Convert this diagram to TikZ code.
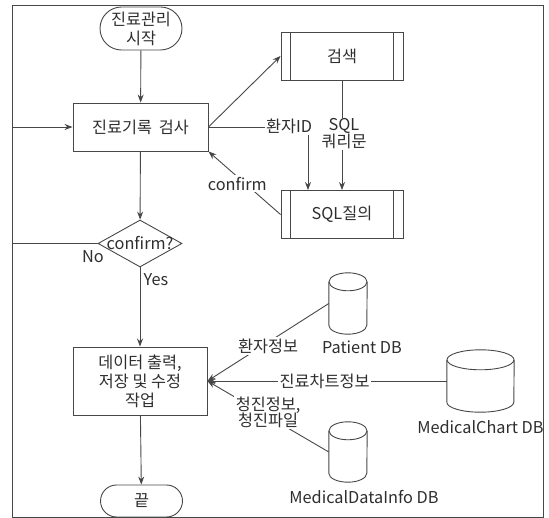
\documentclass[tikz,border=0pt]{standalone}
\usepackage{fontspec}
\setmainfont{Noto Sans CJK KR}
\usetikzlibrary{shapes.geometric,shapes.misc,arrows.meta,calc}
\begin{document}
\begin{tikzpicture}[x=1pt,y=-1pt,
  font=\fontsize{16.3}{19}\selectfont,
  ink/.style={draw=black!72, line width=0.9pt},
  flow/.style={ink, -{Stealth[length=8pt,width=6pt]}},
  txt/.style={text=black!82},
  procbox/.style={ink, txt, rectangle, minimum width=135pt, minimum height=48pt, align=center, inner sep=2pt},
  subbox/.style={ink, txt, rectangle, minimum width=122pt, minimum height=48pt, inner sep=2pt},
  term/.style={ink, txt, rounded rectangle, minimum width=84pt, minimum height=43pt, align=center, inner sep=1pt},
  decis/.style={ink, diamond, minimum width=84pt, minimum height=47pt, inner sep=0pt},
  dbspot/.style={rectangle, inner sep=0pt},
  lab/.style={txt, fill=white, inner sep=1.5pt, align=center},
]
\useasboundingbox (0,0) rectangle (549,518);

% process steps
\node[term] (start) at (141,28.5) {진료관리\\시작};
\node[procbox] (rec) at (140.5,127) {진료기록\hspace{3pt} 검사};
\node[subbox] (search) at (342,56) {검색};
\node[subbox] (query) at (342,214.5) {SQL질의};
\node[decis, label={[txt]center:confirm?}] (dec) at (140,243.5) {};
\node[procbox, minimum width=134pt, minimum height=68pt] (out) at (140,381) {데이터 출력,\\저장 및 수정\\작업};
\node[term, minimum height=32pt] (end) at (141.5,501) {끝};

% predefined-process side bars
\foreach \b in {search,query}{
  \draw[ink] ($(\b.north west)+(10,0)$) -- ($(\b.south west)+(10,0)$);
  \draw[ink] ($(\b.north east)+(-10,0)$) -- ($(\b.south east)+(-10,0)$);
}

% databases: placeholder nodes, drawn as cylinders below
\node[dbspot, minimum width=38pt, minimum height=61pt] (pdb) at (348,303.5) {};
\node[dbspot, minimum width=67pt, minimum height=62pt] (cdb) at (480.5,381) {};
\node[dbspot, minimum width=38pt, minimum height=60pt] (idb) at (348,452) {};
\foreach \n/\hw/\ry in {pdb/19/9, cdb/33.5/10, idb/19/9}{
  \draw[ink] ($(\n.north)+(0,\ry)$) ellipse [x radius=\hw, y radius=\ry];
  \draw[ink] ($(\n.north west)+(0,\ry)$) -- ($(\n.south west)+(0,-\ry)$)
    arc [start angle=180, end angle=0, x radius=\hw, y radius=\ry]
    -- ($(\n.north east)+(0,\ry)$);
}
\node[txt] (pdbname) at (362,347) {Patient DB};
\node[txt] (cdbname) at (480.5,427) {MedicalChart DB};
\node[txt] (idbname) at (364,497) {MedicalDataInfo DB};

% main flow
\draw[flow] (start) -- (rec);
\draw[flow] (rec) -- (dec);
\draw[flow] (dec) -- (out);
\node[txt] at (156,280) {Yes};
\draw[flow] (out) -- (end);
\coordinate (back) at (12,243.5);
\draw[flow] (dec.west) -- (back) |- (rec.west);
\node[txt] at (93,257) {No};

% search loop
\draw[flow] (rec.east) -- (search.west);
\coordinate (idc) at (308,127);
\draw[flow] (rec.east) -- (idc) -- (idc |- query.north);
\node[lab] at (289,126) {환자ID};
\draw[flow] (search.south) -- (query.north);
\node[lab, inner sep=1pt] at (344,134) {SQL\\[-2pt]쿼리문};
\draw[flow] (query.west) -- node[lab, pos=0.6, yshift=-7pt]{confirm} (rec.south east);

% database inputs
\draw[flow] (pdb.west) -- node[lab, pos=0.5, yshift=-4pt]{환자정보} (out.east);
\draw[flow] (cdb.west) -- node[lab, pos=0.51]{진료차트정보} (out.east);
\draw[flow] (idb.west) -- node[lab, pos=0.5, yshift=4pt]{청진정보,\\[-3pt]청진파일} (out.east);

% outer frame
\draw[black!72, line width=0.9pt] (12,5) rectangle (543.5,517);
\end{tikzpicture}
\end{document}
